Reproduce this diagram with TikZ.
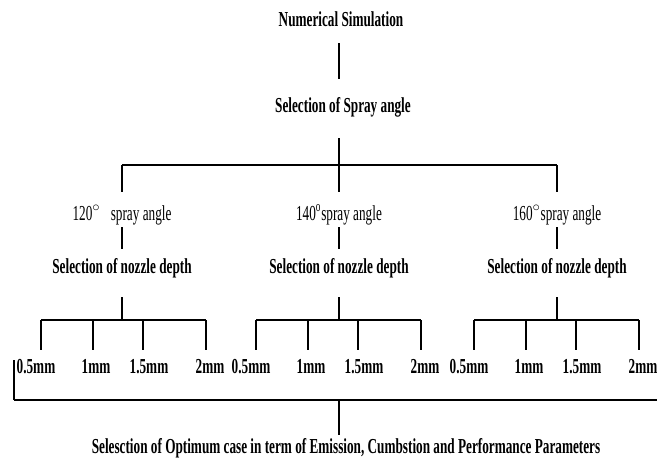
\documentclass[tikz,border=0pt]{standalone}
\usepackage{fontspec}
\setmainfont{Liberation Serif}[FakeStretch=0.62]
\usetikzlibrary{positioning,calc}

\tikzset{
  txt/.style={inner sep=0pt, text height=11pt, text depth=3.5pt, font=\fontsize{16}{18}\selectfont\bfseries},
  ang/.style={txt, font=\fontsize{16}{18}\selectfont},
  link/.style={line width=0.9pt},
  leaf/.style={line width=1.3pt},
  bar/.style={line width=2.2pt},
}

\begin{document}
\begin{tikzpicture}[x=0.75pt, y=-0.75pt]
    \useasboundingbox (0,0) rectangle (657,461);

    \node [txt] (sim) at (341,21) {Numerical Simulation};
    \node [txt] (spray) at (343,107) {Selection of Spray angle};
    \coordinate (hub) at (339,165);

    % Spray angle branches
    \foreach \n/\x/\t in {120/122/{120$^{\circ}$\,\, spray angle}, 140/339/{140\textsuperscript{o}spray angle}, 160/557/{160$^{\circ}$spray angle}} {
        \coordinate (j\n) at (\x,165);
        \coordinate (k\n) at (\x,320);
        \node [ang] (a\n) at (\x,215) {\t};
        \node [txt] (d\n) at (\x,268) {Selection of nozzle depth};
    }

    % Connections
    \draw [link, shorten <=9.2pt, shorten >=13.7pt] (sim.south -| hub) -- (spray.north -| hub);
    \draw [link, shorten <=16pt] (spray.south -| hub) -- (hub);
    \draw [bar] (j120) -- (j160);
    \foreach \n in {120,140,160} {
        \draw [link, shorten >=10pt] (j\n) -- (a\n.north);
        \draw [link, shorten <=1.7pt, shorten >=7pt] (a\n.south) -- (d\n.north);
        \draw [link, shorten <=14.5pt] (d\n.south) -- (k\n);
    }

    % Nozzle depths
    \foreach \n/\l in {120/41, 140/256, 160/474} {
        \foreach \k/\dx/\lx/\m in {1/0/-5/0.5mm, 2/52/55/1mm, 3/102/108/1.5mm, 4/165/169/2mm} {
            \coordinate (t\n-\k) at (\l+\dx,320);
            \node [txt] (mm\n-\k) at (\l+\lx,368) {\m};
        }
        \draw [bar] (t\n-1) -- (t\n-4);
        \draw [bar, shorten >=6.2pt] (t\n-1) -- (t\n-1 |- mm\n-1.north);
        \draw [bar, shorten >=6.2pt] (t\n-4) -- (t\n-4 |- mm\n-4.north);
        \draw [leaf, shorten >=6.2pt] (t\n-2) -- (t\n-2 |- mm\n-2.north);
        \draw [leaf, shorten >=6.2pt] (t\n-3) -- (t\n-3 |- mm\n-3.north);
    }

    % Optimum case
    \node [txt] (opt) at (346,448) {Selesction of Optimum case in term of Emission, Cumbstion and Performance Parameters};
    \coordinate (lowL) at (14,360);
    \coordinate (lowR) at (657,400);
    \draw [link, line width=1.2pt] (lowL) -- (lowL |- lowR);
    \draw [bar] (lowL |- lowR) -- (lowR);
    \draw [link, shorten >=2.5pt] (hub |- lowR) -- (opt.north -| hub);
\end{tikzpicture}
\end{document}
